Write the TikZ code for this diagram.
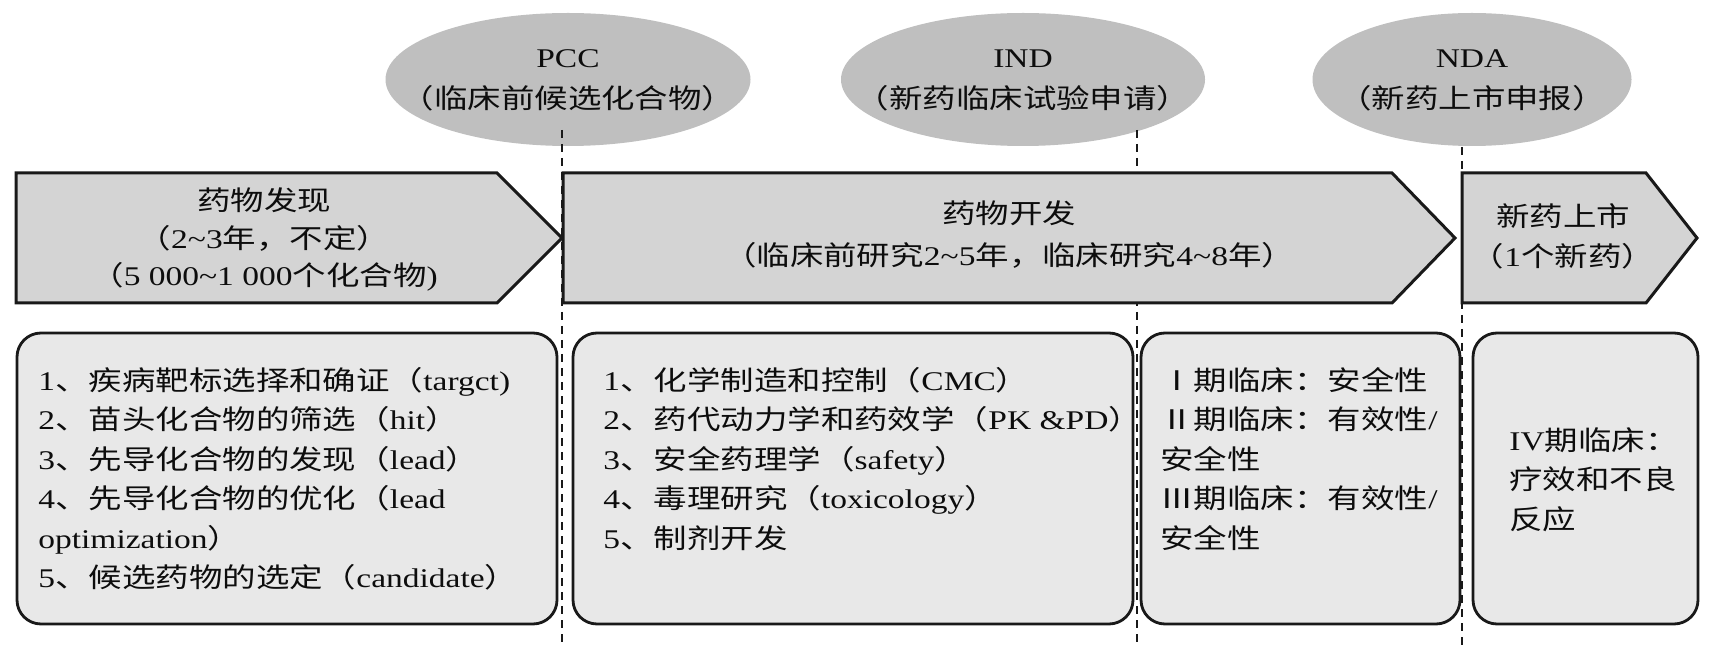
\documentclass[tikz,border=0pt]{standalone}
\usepackage{fontspec}
\setmainfont{Liberation Serif}[FakeStretch=1.24]
\newfontfamily\zhfont{Noto Sans CJK SC}[FakeStretch=1.24]
\newcommand{\zh}[1]{{\zhfont #1}}
\newcommand{\til}{\textasciitilde}
\usetikzlibrary{shapes.geometric}

\begin{document}
\begin{tikzpicture}[x=0.5pt, y=-0.5pt,
	milestone/.style={ellipse, fill=black!25, minimum height=66.5pt, inner sep=0pt},
	phase/.style={draw=black!90, fill=black!17, line width=1.5pt, line join=miter},
	stagebox/.style={draw=black!90, fill=black!9, line width=1.4pt, rounded corners=12pt},
	cut/.style={draw=black!90, line width=1.2pt, dash pattern=on 4pt off 3pt},
	txt/.style={inner sep=0pt, text=black!95, font=\fontsize{13.5}{19.75}\selectfont}
]
\useasboundingbox (0,0) rectangle (1711,646);

% milestones (text anchored on the baseline of its last line)
\node[milestone, minimum width=182.5pt] (pcc) at (568,79.5) {};
\node[milestone, minimum width=182pt] (ind) at (1023,79.5) {};
\node[milestone, minimum width=159.5pt] (nda) at (1472,79.5) {};
\node[txt, align=center, anchor=base] (pcctxt) at (568,109) {PCC\\[1pt]\zh{（临床前候选化合物）}};
\node[txt, align=center, anchor=base] (indtxt) at (1023,109) {IND\\[1pt]\zh{（新药临床试验申请）}};
\node[txt, align=center, anchor=base] (ndatxt) at (1472,109) {NDA\\[1pt]\zh{（新药上市申报）}};

% dashed cuts
\coordinate (pcctop) at (562,130);
\coordinate (pccbot) at (562,646);
\coordinate (indtop) at (1137,130);
\coordinate (indbot) at (1137,646);
\coordinate (ndatop) at (1462,147);
\coordinate (ndabot) at (1462,646);
\draw[cut] (pcctop) -- (pccbot);
\draw[cut] (indtop) -- (indbot);
\draw[cut] (ndatop) -- (ndabot);

% phases
\draw[phase] (16,173) -- (497,173) -- (562,238) -- (497,303) -- (16,303) -- cycle;
\draw[phase] (563,173) -- (1392,173) -- (1455,238) -- (1392,303) -- (563,303) -- cycle;
\draw[phase] (1462,173) -- (1646,173) -- (1697,238) -- (1646,303) -- (1462,303) -- cycle;
\node[txt, align=center, anchor=base] (discovery) at (264,286)
	{\zh{药物发现}\\[-0.8pt]\zh{（}2\til3\zh{年，不定）}\\[-0.8pt]\zh{（}5\ 000\til1\ 000\zh{个化合物}) };
\node[txt, align=center, anchor=base] (development) at (1009,266)
	{\zh{药物开发}\\[1.7pt]\zh{（临床前研究}2\til5\zh{年，临床研究}4\til8\zh{年）}};
\node[txt, align=center, anchor=base] (market) at (1563,266.5)
	{\zh{新药上市}\\\zh{（}1\zh{个新药）}};

% stages
\draw[stagebox] (17,333) rectangle (557,624);
\draw[stagebox] (573,333) rectangle (1133,624);
\draw[stagebox] (1141,333) rectangle (1460,624);
\draw[stagebox] (1473,333) rectangle (1698,624);
\node[txt, align=left, anchor=base west] (discsteps) at (38,587.5)
	{1\zh{、疾病靶标选择和确证（}targct)\\
	 2\zh{、苗头化合物的筛选（}hit\zh{）}\\
	 3\zh{、先导化合物的发现（}lead\zh{）}\\
	 4\zh{、先导化合物的优化（}lead\\
	 optimization\zh{）}\\
	 5\zh{、候选药物的选定（}candidate\zh{）}};
\node[txt, align=left, anchor=base west] (devsteps) at (603,548)
	{1\zh{、化学制造和控制（}CMC\zh{）}\\
	 2\zh{、药代动力学和药效学（}PK \&PD\zh{）}\\
	 3\zh{、安全药理学（}safety\zh{）}\\
	 4\zh{、毒理研究（}toxicology\zh{）}\\
	 5\zh{、制剂开发}};
\node[txt, align=left, anchor=base west] (clinical) at (1160,548)
	{\zh{Ⅰ期临床：安全性}\\
	 \zh{Ⅱ期临床：有效性}/\\
	 \zh{安全性}\\
	 \zh{Ⅲ期临床：有效性}/\\
	 \zh{安全性}};
\node[txt, align=left, anchor=base west] (phasefour) at (1509,529)
	{IV\zh{期临床：}\\
	 \zh{疗效和不良}\\
	 \zh{反应}};
\end{tikzpicture}
\end{document}
